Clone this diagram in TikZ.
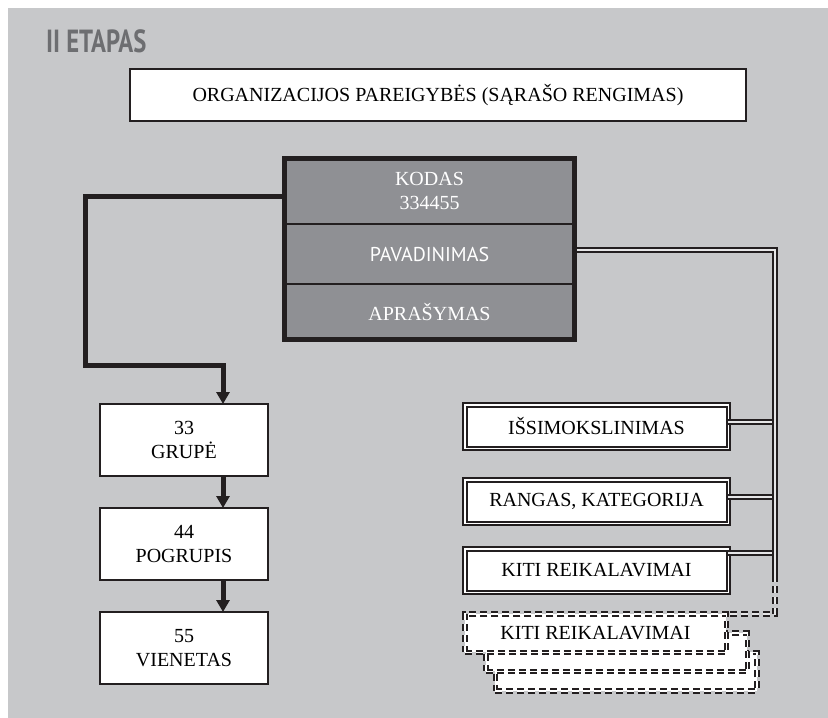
\documentclass[tikz,border=0pt]{standalone}
\usepackage{fontspec}
\setmainfont{Liberation Serif}
\newfontfamily\sansf{PT Sans}
\usetikzlibrary{positioning,arrows.meta}
\definecolor{bggray}{HTML}{C7C8CA}
\definecolor{boxgray}{HTML}{8F9094}
\definecolor{titlegray}{HTML}{6D6E71}
\definecolor{ink}{HTML}{231F20}

\begin{document}
\begin{tikzpicture}
            [x=1pt,y=-1pt,every node/.style={draw=ink, fill=white, line width=2pt, inner sep=0pt, outer sep=0pt, align=center, font=\fontsize{20}{24}\selectfont},
             row/.style={fill=boxgray, text=white, line width=1.5pt, minimum width=290pt},
             plainbox/.style={minimum width=168pt, minimum height=72pt},
             dblbox/.style={double=white, line width=2pt, double distance=1.5pt, minimum width=263.5pt, minimum height=43.5pt},
             dashbox/.style={double=white, line width=2pt, double distance=1.5pt, dash pattern=on 7pt off 4pt, minimum width=261.5pt, minimum height=38.5pt},
             thk/.style={draw=ink, line width=5pt, miter limit=4, -{Triangle[width=13pt,length=12pt]}},
             dline/.style={draw=ink, double=white!55!bggray, line width=2pt, double distance=1.5pt}]
          \useasboundingbox (0,0) rectangle (828,718);
          \fill[bggray] (8,8) rectangle (828,718);

          \node[draw=none, fill=none, anchor=west, text=titlegray, font=\sansf\bfseries\fontsize{32}{32}\selectfont] (t0) at (46,41) {\scalebox{0.77}[1]{II ETAPAS}};
          \node[minimum width=616pt, minimum height=52pt] (n0) at (438,95) {ORGANIZACIJOS PAREIGYBĖS (SĄRAŠO RENGIMAS)};

          \node[row, minimum height=65.5pt] (m1) at (429.5,191.25) {KODAS\\334455};
          \node[row, minimum height=60pt, font=\sansf\fontsize{20}{24}\selectfont] (m2) at (429.5,254) {PAVADINIMAS};
          \node[row, minimum height=55.5pt] (m3) at (429.5,311.75) {APRAŠYMAS};

          \node[plainbox] (g1) at (184,440) {33\\GRUPĖ};
          \node[plainbox] (g2) at (184,544) {44\\POGRUPIS};
          \node[plainbox] (g3) at (184,648) {55\\VIENETAS};

          \node[dblbox] (r1) at (596.5,426.5) {IŠSIMOKSLINIMAS};
          \node[dblbox] (r2) at (596.5,501.5) {RANGAS, KATEGORIJA};
          \node[dblbox] (r3) at (596.5,570.5) {KITI REIKALAVIMAI};

          \node[dashbox] (d3) at (626,671.5) {};
          \node[dashbox] (d2) at (616.5,652) {};
          \node[dashbox] (d1) at (595.5,633) {KITI REIKALAVIMAI};

          \coordinate (j0) at (775,250);
          \coordinate (j1) at (775,575);

          \draw[thk] ([yshift=-5pt]m1.west) -| (85,365) -| ([xshift=39pt]g1.north);
          \foreach \from/\to in {g1/g2, g2/g3}
            \draw[thk] ([xshift=39pt]\from.south) -- ([xshift=39pt]\to.north);

          \foreach \from/\dy in {r1/4.5, r2/4.5, r3/17.5}
            {
            \coordinate (\from c) at ([yshift=\dy pt]\from.east);
            \draw[dline] (\from c) -- (\from c -| j0);
            }
          \draw[dline] ([yshift=4pt]m2.east) -- (j0) -- (j1);
          \draw[dline, dash pattern=on 7pt off 4pt] (j1) |- (d1.north east);

          \draw[draw=ink, line width=5pt] (m1.north west) rectangle (m3.south east);
        \end{tikzpicture}
\end{document}
